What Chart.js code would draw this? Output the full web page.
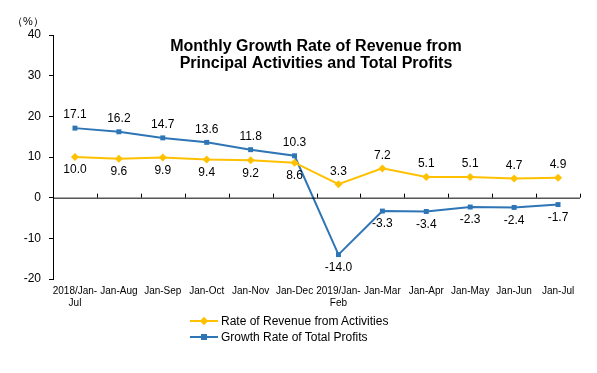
<!DOCTYPE html>
<html>
<head>
<meta charset="utf-8">
<script src="https://cdn.jsdelivr.net/npm/chart.js@4/dist/chart.umd.min.js"></script>
<style>
  body { margin: 0; background: #fff; }
  #wrap { position: relative; width: 597px; height: 373px; }
  #legend { position: absolute; left: 190px; top: 313px; font: 12px "Liberation Sans", Arial, sans-serif; color: #000; }
  .item { display: flex; align-items: center; height: 16px; }
  .sample { position: relative; width: 28px; height: 10px; margin-right: 3px; }
  .sample .ln { position: absolute; left: 0; right: 0; top: 4px; height: 2px; }
  .sample .mk { position: absolute; left: 11px; top: 2px; width: 6px; height: 6px; }
</style>
</head>
<body>
<div id="wrap">
  <canvas id="chart" width="597" height="373"></canvas>
  <div id="legend"></div>
</div>
<script>
const categories = [
  ["2018/Jan-", "Jul"], "Jan-Aug", "Jan-Sep", "Jan-Oct", "Jan-Nov", "Jan-Dec",
  ["2019/Jan-", "Feb"], "Jan-Mar", "Jan-Apr", "Jan-May", "Jan-Jun", "Jan-Jul"
];
const revenueGrowth = [10.0, 9.6, 9.9, 9.4, 9.2, 8.6, 3.3, 7.2, 5.1, 5.1, 4.7, 4.9];
const profitGrowth = [17.1, 16.2, 14.7, 13.6, 11.8, 10.3, -14.0, -3.3, -3.4, -2.3, -2.4, -1.7];
const yTicks = [-20, -10, 0, 10, 20, 30, 40];
const titleLines = ["Monthly Growth Rate of Revenue from", "Principal Activities and Total Profits"];

const FONT = '"Liberation Sans", Arial, sans-serif';
const YELLOW = "#FFC000";
const BLUE = "#2E75B6";

// title, unit, zero line with its ticks, point labels
const extras = {
  id: "extras",
  afterDatasetsDraw(chart) {
    const { ctx, chartArea } = chart;
    const y = chart.scales.y;
    ctx.save();
    // zero line + category boundary ticks
    const y0 = y.getPixelForValue(0);
    ctx.strokeStyle = "#000";
    ctx.lineWidth = 1;
    ctx.beginPath();
    ctx.moveTo(chartArea.left, y0 + 0.5);
    ctx.lineTo(chartArea.right, y0 + 0.5);
    const step = (chartArea.right - chartArea.left) / categories.length;
    for (let i = 1; i <= categories.length; i++) {
      const px = Math.round(chartArea.left + step * i) + 0.5;
      ctx.moveTo(px, y0);
      ctx.lineTo(px, y0 - 4);
    }
    ctx.stroke();

    // value labels
    ctx.fillStyle = "#000";
    ctx.font = "12px " + FONT;
    ctx.textAlign = "center";
    ctx.textBaseline = "middle";
    chart.data.datasets.forEach((ds, di) => {
      const other = chart.data.datasets[1 - di].data;
      chart.getDatasetMeta(di).data.forEach((pt, i) => {
        const above = ds.data[i] > other[i];
        ctx.fillText(ds.data[i].toFixed(1), pt.x, pt.y + (above ? -13 : 13));
      });
    });

    // title
    ctx.font = "bold 16px " + FONT;
    titleLines.forEach((t, i) => ctx.fillText(t, 316, 47 + i * 17));

    // unit
    ctx.font = "11px " + FONT;
    ctx.fillText("（%）", 28, 22);
    ctx.restore();
  }
};

const chart = new Chart(document.getElementById("chart"), {
  type: "line",
  data: {
    labels: categories,
    datasets: [
      {
        label: "Rate of Revenue from Activities",
        data: revenueGrowth,
        borderColor: YELLOW,
        backgroundColor: YELLOW,
        borderWidth: 2,
        pointStyle: "rectRot",
        pointRadius: 4,
        pointBorderWidth: 0,
        tension: 0
      },
      {
        label: "Growth Rate of Total Profits",
        data: profitGrowth,
        borderColor: BLUE,
        backgroundColor: BLUE,
        borderWidth: 2,
        pointStyle: "rect",
        pointRadius: 3.5,
        pointBorderWidth: 0,
        tension: 0
      }
    ]
  },
  options: {
    responsive: false,
    animation: false,
    layout: { padding: { top: 35, right: 17, left: 0, bottom: 0 } },
    plugins: { legend: { display: false }, title: { display: false }, tooltip: { enabled: false } },
    scales: {
      x: {
        offset: true,
        grid: { display: false },
        border: { display: false },
        ticks: {
          color: "#000",
          font: { family: FONT, size: 10 },
          maxRotation: 0,
          autoSkip: false,
          padding: -2
        },
        afterFit: s => { s.height = 94; }
      },
      y: {
        min: -20,
        max: 40,
        afterBuildTicks: s => { s.ticks = yTicks.map(v => ({ value: v })); },
        grid: { drawOnChartArea: false, tickLength: 4, tickColor: "#000" },
        border: { display: true, color: "#000", width: 1 },
        ticks: { color: "#000", font: { family: FONT, size: 12 }, padding: 8 },
        afterFit: s => { s.width = 53; }
      }
    }
  },
  plugins: [extras]
});

// legend built from datasets
const legend = document.getElementById("legend");
chart.data.datasets.forEach(ds => {
  const row = document.createElement("div");
  row.className = "item";
  const diamond = ds.pointStyle === "rectRot" ? "transform: rotate(45deg);" : "";
  row.innerHTML =
    '<span class="sample"><span class="ln" style="background:' + ds.borderColor + '"></span>' +
    '<span class="mk" style="background:' + ds.borderColor + ';' + diamond + '"></span></span>' +
    '<span>' + ds.label + '</span>';
  legend.appendChild(row);
});
</script>
</body>
</html>
